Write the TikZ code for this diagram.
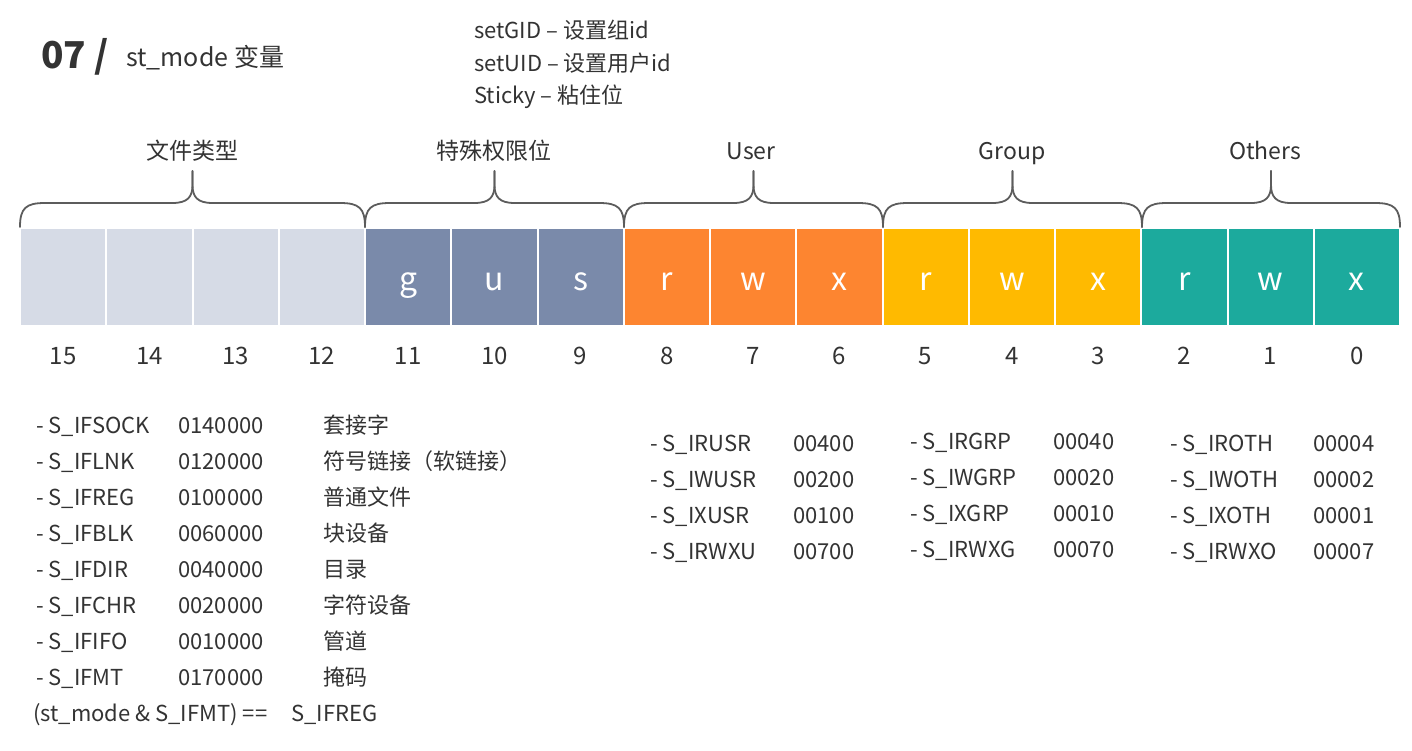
\documentclass[tikz,border=0pt]{standalone}
\usepackage{fontspec}
\setmainfont{Noto Sans CJK SC}
\definecolor{txt}{HTML}{333333}
\definecolor{typec}{HTML}{D6DBE6}
\definecolor{specc}{HTML}{7A8AAA}
\definecolor{userc}{HTML}{FD8530}
\definecolor{grpc}{HTML}{FFBA00}
\definecolor{othc}{HTML}{1CAA9D}
\definecolor{bracec}{HTML}{5C5C5C}
\newcommand\fs[1]{\fontsize{#1}{#1}\selectfont}
\newcommand\bitbrace[2]{%
  \pgfmathsetmacro\bm{(#1+#2)/2}%
  \draw[brc] (#1,227) .. controls (#1,208) and (#1+6,203) .. (#1+25,203)
    -- (\bm-20,203) .. controls (\bm-5,203) and (\bm,197) .. (\bm,185) -- (\bm,171);
  \draw[brc] (#2,227) .. controls (#2,208) and (#2-6,203) .. (#2-25,203)
    -- (\bm+20,203) .. controls (\bm+5,203) and (\bm,197) .. (\bm,185) -- (\bm,171);}
\begin{document}
\begin{tikzpicture}[x=1pt,y=-1pt,
  cell/.style={draw=white, line width=2pt, minimum width=86.25pt, minimum height=98pt,
    inner sep=0pt, font=\fs{32}, text=white, text height=30pt, text depth=4pt},
  bitno/.style={font=\fs{24}, text=txt, anchor=base, inner sep=0pt},
  lbl/.style={font=\fs{22}, text=txt, anchor=base west, inner sep=0pt},
  grouplbl/.style={font=\fs{23}, text=txt, anchor=base, inner sep=0pt},
  brc/.style={draw=bracec, line width=1.8pt, line cap=round}]
\useasboundingbox[fill=white] (0,0) rectangle (1412,751);

% title and special-bit legend
\node[anchor=base west, inner sep=0pt, font=\fs{37}\bfseries, text=txt] (title) at (41,69) {07 /};
\node[lbl, font=\fs{25}] (subtitle) at (126,67) {st\_mode 变量};
\node[lbl] (h1) at (474,39) {setGID – 设置组id};
\node[lbl] (h2) at (474,72) {setUID – 设置用户id};
\node[lbl] (h3) at (474,104) {Sticky – 粘住位};

% the sixteen bits of st_mode
\foreach \b/\col/\t [count=\i from 0] in
  {15/typec/,14/typec/,13/typec/,12/typec/,
   11/specc/g,10/specc/u,9/specc/s,
   8/userc/r,7/userc/w,6/userc/x,
   5/grpc/r,4/grpc/w,3/grpc/x,
   2/othc/r,1/othc/w,0/othc/x}{
  \node[cell, fill=\col] (c\b) at (63.125+86.25*\i,277) {\t};
  \node[bitno] (n\b) at ([yshift=-37pt]c\b.south) {\b};
}

% braces over the bit groups
\bitbrace{20}{365}
\bitbrace{365}{624}
\bitbrace{624}{883}
\bitbrace{883}{1142}
\bitbrace{1142}{1400}
\node[grouplbl] (gtype) at (192,160) {文件类型};
\node[grouplbl] (gspec) at (494,160) {特殊权限位};
\node[grouplbl] (guser) at (751,160) {User};
\node[grouplbl] (ggrp) at (1012,160) {Group};
\node[grouplbl] (goth) at (1265,160) {Others};

% file type constants
\foreach \nm/\val/\desc [count=\k from 0] in
  {S\_IFSOCK/0140000/套接字,
   S\_IFLNK/0120000/符号链接（软链接）,
   S\_IFREG/0100000/普通文件,
   S\_IFBLK/0060000/块设备,
   S\_IFDIR/0040000/目录,
   S\_IFCHR/0020000/字符设备,
   S\_IFIFO/0010000/管道,
   S\_IFMT/0170000/掩码}{
  \node[lbl] (tn\k) at (36,433+36*\k) {- \nm};
  \node[lbl] (tv\k) at (178,433+36*\k) {\val};
  \node[lbl] (td\k) at (323,433+36*\k) {\desc};
}
\node[lbl] (test) at (33,721) {(st\_mode \& S\_IFMT) ==};
\node[lbl] (testr) at (291,721) {S\_IFREG};

% permission constants
\foreach \nm/\val [count=\k from 0] in
  {S\_IRUSR/00400,S\_IWUSR/00200,S\_IXUSR/00100,S\_IRWXU/00700}{
  \node[lbl] (un\k) at (650,451+36.3*\k) {- \nm};
  \node[lbl] (uv\k) at (793,451+36.3*\k) {\val};
}
\foreach \nm/\val [count=\k from 0] in
  {S\_IRGRP/00040,S\_IWGRP/00020,S\_IXGRP/00010,S\_IRWXG/00070}{
  \node[lbl] (gn\k) at (910,449+36*\k) {- \nm};
  \node[lbl] (gv\k) at (1053,449+36*\k) {\val};
}
\foreach \nm/\val [count=\k from 0] in
  {S\_IROTH/00004,S\_IWOTH/00002,S\_IXOTH/00001,S\_IRWXO/00007}{
  \node[lbl] (on\k) at (1170,451+36.3*\k) {- \nm};
  \node[lbl] (ov\k) at (1313,451+36.3*\k) {\val};
}
\end{tikzpicture}
\end{document}
